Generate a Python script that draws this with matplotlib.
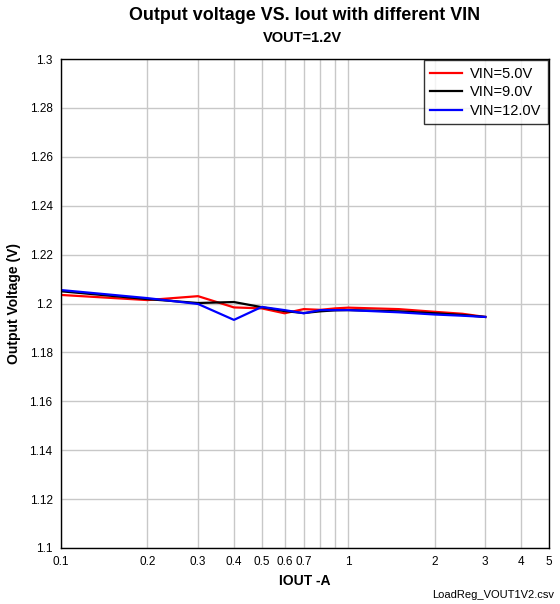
import numpy as np
import matplotlib.pyplot as plt
from matplotlib.ticker import FixedLocator, NullLocator

plt.rcParams['font.family'] = ['Liberation Sans', 'DejaVu Sans']

# load current (A)
iout = [0.1, 0.2, 0.3, 0.4, 0.5, 0.6, 0.7, 0.8, 0.9, 1.0, 1.5, 2.0, 2.5, 3.0]
# output voltage for each VIN
v_5v = [1.2035, 1.2014, 1.2030, 1.1984, 1.1980, 1.1960, 1.1977, 1.1974, 1.1980, 1.1983, 1.1977, 1.1966, 1.1958, 1.1945]
v_9v = [1.2050, 1.2018, 1.2002, 1.2006, 1.1985, 1.1969, 1.1961, 1.1968, 1.1972, 1.1973, 1.1968, 1.1960, 1.1953, 1.1945]
v_12v = [1.2055, 1.2022, 1.1998, 1.1933, 1.1986, 1.1973, 1.1960, 1.1973, 1.1973, 1.1973, 1.1964, 1.1955, 1.1950, 1.1945]

xticks = [0.1, 0.2, 0.3, 0.4, 0.5, 0.6, 0.7, 1, 2, 3, 4, 5]
xtick_labels = ['0.1', '0.2', '0.3', '0.4', '0.5', '0.6', '0.7', '1', '2', '3', '4', '5']
xgrid = [0.1, 0.2, 0.3, 0.4, 0.5, 0.6, 0.7, 0.8, 0.9, 1, 2, 3, 4, 5]
yticks = np.round(np.arange(1.1, 1.3001, 0.02), 2)

fig = plt.figure(figsize=(5.6, 6.04), dpi=100)
ax = fig.add_axes([61/560, 1 - 548/604, 488/560, 489/604])

ax.plot(iout, v_5v, color='#ff0000', lw=1.6, label='VIN=5.0V')
ax.plot(iout, v_9v, color='#000000', lw=1.6, label='VIN=9.0V')
ax.plot(iout, v_12v, color='#0000ff', lw=1.6, label='VIN=12.0V')

ax.set_xscale('log')
ax.set_xlim(0.1, 5)
ax.set_ylim(1.1, 1.3)

# grid on every decade step
for g in xgrid:
    ax.axvline(g, color='#c8c8c8', lw=1, zorder=0)
for g in yticks:
    ax.axhline(g, color='#c8c8c8', lw=1, zorder=0)

ax.xaxis.set_major_locator(FixedLocator(xticks))
ax.xaxis.set_minor_locator(NullLocator())
ax.set_xticklabels(xtick_labels)
ax.set_yticks(yticks)
ax.set_yticklabels(['%g' % v for v in yticks])
ax.tick_params(length=0, labelsize=8.5, pad=6)

for s in ax.spines.values():
    s.set_color('black')
    s.set_linewidth(1)

ax.set_xlabel('IOUT -A', fontsize=10, fontweight='bold', labelpad=4)
ax.set_ylabel('Output Voltage (V)', fontsize=10, fontweight='bold', labelpad=6)

fig.text(305/560, 1 - 15/604, 'Output voltage VS. Iout with different VIN',
         ha='center', va='center', fontsize=12.9, fontweight='bold')
fig.text(302/560, 1 - 38/604, 'VOUT=1.2V', ha='center', va='center',
         fontsize=10.5, fontweight='bold')
fig.text(554/560, 1 - 595/604, 'LoadReg_VOUT1V2.csv', ha='right', va='center',
         fontsize=8)

leg = ax.legend(loc='upper right', fontsize=10.5, frameon=True, fancybox=False,
                handlelength=2.2, handletextpad=0.5, borderaxespad=0.1,
                labelspacing=0.3, borderpad=0.45)
leg.get_frame().set_edgecolor('black')
leg.get_frame().set_linewidth(1)

fig.savefig('out.png', dpi=100)
